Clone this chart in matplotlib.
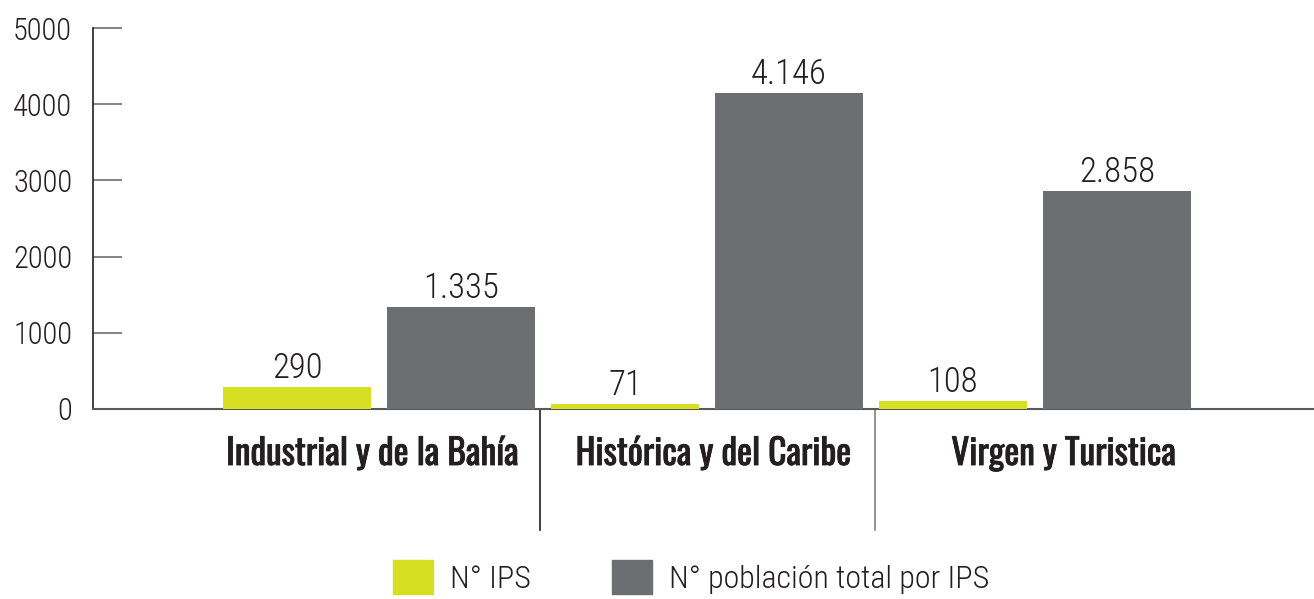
import numpy as np
import matplotlib
matplotlib.use("Agg")
import matplotlib.pyplot as plt
import matplotlib.patheffects as pe
from matplotlib.patches import Patch

plt.rcParams['font.family'] = ['Roboto Condensed', 'DejaVu Sans']
plt.rcParams['font.weight'] = 300

# datos por zona
zonas = ['Industrial y de la Bahía', 'Histórica y del Caribe', 'Virgen y Turistica']
n_ips = [290, 71, 108]
poblacion_ips = [1335, 4146, 2858]
etiquetas_ips = ['290', '71', '108']
etiquetas_pob = ['1.335', '4.146', '2.858']
yticks = [0, 1000, 2000, 3000, 4000, 5000]

verde = '#d7df23'
gris = '#6d6e71'
texto = '#231f20'

fig = plt.figure(figsize=(13.14, 5.99), dpi=100)
ax = fig.add_axes([93 / 1314, 190 / 599, 1 - 93 / 1314, 381 / 599])

x = np.arange(len(zonas))
ancho = 0.451
desp = 0.25
b1 = ax.bar(x - desp, n_ips, ancho, color=verde, zorder=3)
b2 = ax.bar(x + desp, poblacion_ips, ancho, color=gris, zorder=3)

for barras, etiquetas in ((b1, etiquetas_ips), (b2, etiquetas_pob)):
    for b, t in zip(barras, etiquetas):
        ax.annotate(t, (b.get_x() + b.get_width() / 2, b.get_height()),
                    xytext=(0, 1.5), textcoords='offset points',
                    ha='center', va='bottom', fontsize=25, color=texto)

ax.set_xlim(-0.872, 2.851)
ax.set_ylim(0, 5000)
ax.set_yticks(yticks)
ax.set_yticklabels([str(v) for v in yticks], fontsize=22, color=texto)
ax.tick_params(axis='y', direction='in', length=21, width=1.2, color=gris, pad=15)
ax.set_xticks([])

for lado in ('top', 'right'):
    ax.spines[lado].set_visible(False)
ax.spines['left'].set_color(texto)
ax.spines['left'].set_linewidth(1.2)
ax.spines['bottom'].set_color('#58595b')
ax.spines['bottom'].set_linewidth(1.5)

# nombres de zona (algo corridos respecto al grupo) y separadores bajo el eje
trans = ax.get_xaxis_transform()
corrimiento = [-0.02, 0.02, 0.088]
for i, z in enumerate(zonas):
    ax.text(i + corrimiento[i], -0.147, z, transform=trans, ha='center', va='baseline',
            fontsize=25.5, family=['Oswald', 'Roboto Condensed', 'DejaVu Sans'],
            fontweight='bold', color=texto,
            path_effects=[pe.withStroke(linewidth=0.6, foreground=texto)])
for s, c in ((0.49, '#231f20'), (1.512, '#808080')):
    ax.plot([s, s], [0, -0.318], transform=trans, color=c,
            lw=1.2, clip_on=False)

handles = [Patch(color=verde, label='N° IPS'),
           Patch(color=gris, label='N° población total por IPS')]
fig.legend(handles=handles, loc='center', bbox_to_anchor=(691 / 1314, 1 - 577 / 599),
           ncol=2, frameon=False, fontsize=23, handlelength=1.25, handleheight=1.25,
           handletextpad=0.53, columnspacing=2.55, labelcolor=texto)

fig.savefig('out.png', dpi=100)
